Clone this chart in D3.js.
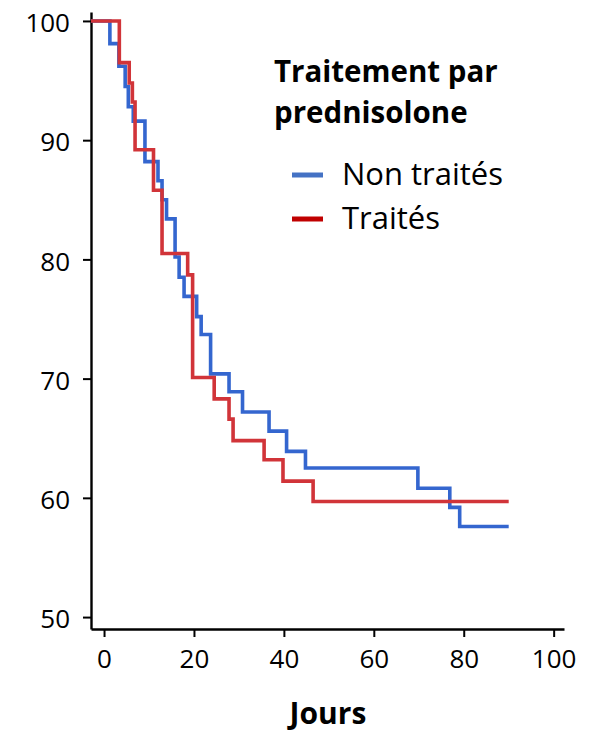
<!DOCTYPE html>
<html>
<head>
<meta charset="utf-8">
<script src="https://cdn.jsdelivr.net/npm/d3@7"></script>
<style>
	body { margin: 0; background: #fff; }
	text { font-family: "Open Sans", "DejaVu Sans", sans-serif; }
</style>
</head>
<body>
<svg id="chart" width="592" height="734"></svg>
<script>
// Kaplan-Meier style steps, days vs % still alive
const seriesNames = ["Non traités", "Traités"];
const nonTraitesJours = [0, 1.3, 3.3, 4.7, 5.4, 6.5, 9.1, 12.0, 12.9, 13.9, 15.8, 16.7, 17.8, 20.6, 21.6, 23.7, 27.8, 30.8, 36.7, 40.6, 44.8, 69.8, 76.9, 79.1, 90];
const nonTraitesSurvie = [100, 98.1, 96.2, 94.5, 92.8, 91.6, 88.2, 86.6, 85.0, 83.4, 80.2, 78.5, 76.9, 75.2, 73.7, 70.4, 68.9, 67.2, 65.6, 63.9, 62.5, 60.8, 59.2, 57.6, 57.6];
const traitesJours = [0, 3.4, 5.6, 6.3, 6.9, 11.0, 12.9, 18.6, 19.7, 24.5, 27.8, 28.7, 35.6, 39.8, 46.5, 90];
const traitesSurvie = [100, 96.5, 94.8, 93.2, 89.2, 85.8, 80.5, 78.7, 70.1, 68.3, 66.6, 64.8, 63.2, 61.4, 59.7, 59.7];
const xTicks = [0, 20, 40, 60, 80, 100];
const yTicks = [50, 60, 70, 80, 90, 100];
const legendTitle = ["Traitement par", "prednisolone"];
const xLabel = "Jours";

const lineColors = ["#3466cf", "#d13439"];
const legendColors = ["#4472c4", "#c00000"];

const svg = d3.select("#chart");

const x = d3.scaleLinear().domain([-2.9, 102.3]).range([91, 564]);
const y = d3.scaleLinear().domain([49, 100.75]).range([629, 12]);

// axes
const yAxis = svg.append("g")
	.attr("transform", "translate(91,0)")
	.call(d3.axisLeft(y).tickValues(yTicks).tickSize(8).tickSizeOuter(0).tickPadding(13));
const xAxis = svg.append("g")
	.attr("transform", "translate(0,629)")
	.call(d3.axisBottom(x).tickValues(xTicks).tickSize(8).tickSizeOuter(0));

[xAxis, yAxis].forEach(g => {
	g.select(".domain").attr("stroke", "#000").attr("stroke-width", 2.4);
	g.selectAll(".tick line").attr("stroke", "#000").attr("stroke-width", 2);
	g.selectAll(".tick text")
		.attr("fill", "#000")
		.style("font-size", "26px")
		.style("font-family", "'Open Sans', sans-serif");
});
yAxis.selectAll(".tick text").attr("dy", "0.41em");
xAxis.selectAll(".tick text").attr("dy", null).attr("y", 39);

// curves (drawn from the y axis, as in the original)
const series = [
	{ name: seriesNames[0], days: nonTraitesJours, vals: nonTraitesSurvie, color: lineColors[0] },
	{ name: seriesNames[1], days: traitesJours, vals: traitesSurvie, color: lineColors[1] }
];

const line = d3.line()
	.x(d => x(d[0]))
	.y(d => y(d[1]))
	.curve(d3.curveStepAfter);

const stepPoints = s => {
	const pts = s.days.map((t, i) => [t, s.vals[i]]);
	pts[0] = [x.domain()[0], s.vals[0]];
	return pts;
};

svg.append("g")
	.selectAll("path")
	.data(series)
	.enter()
	.append("path")
	.attr("d", s => line(stepPoints(s)))
	.attr("fill", "none")
	.attr("stroke", s => s.color)
	.attr("stroke-width", 3.6)
	.attr("stroke-linejoin", "miter");

// legend
svg.append("g")
	.selectAll("text")
	.data(legendTitle)
	.enter()
	.append("text")
	.attr("x", 274)
	.attr("y", (d, i) => 82 + i * 41)
	.style("font-size", "29.5px")
	.style("font-weight", "bold")
	.text(d => d);

const items = svg.append("g")
	.selectAll("g")
	.data(series)
	.enter()
	.append("g")
	.attr("transform", (d, i) => `translate(0,${175 + i * 44})`);

items.append("line")
	.attr("x1", 292)
	.attr("x2", 323)
	.attr("stroke", (d, i) => legendColors[i])
	.attr("stroke-width", 5);

items.append("text")
	.attr("x", 342)
	.attr("y", 10)
	.style("font-size", "31px")
	.text(d => d.name);

svg.append("text")
	.attr("x", 328)
	.attr("y", 724)
	.attr("text-anchor", "middle")
	.style("font-size", "30px")
	.style("font-weight", "bold")
	.text(xLabel);
</script>
</body>
</html>
